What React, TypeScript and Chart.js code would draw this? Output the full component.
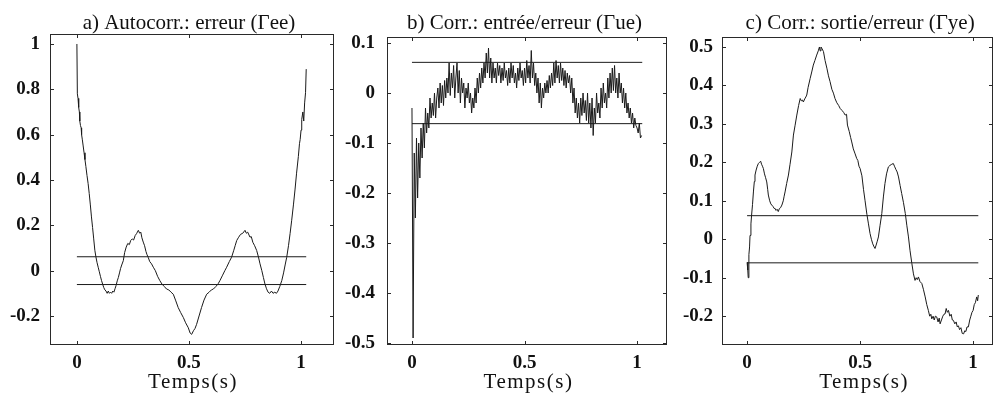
import React, { useEffect, useRef } from "react";
import { Chart, registerables } from "chart.js";

Chart.register(...registerables);

const W = 995;
const H = 393;

const X_TICKS = [0, 0.5, 1];
const X_LABEL = "Temps(s)";
const CONF_LEVEL = 0.0613;
const CONF_T = [0, 1.023];

// ---- Panel a ----
const A_TITLE = "a) Autocorr.: erreur (\u0393ee)";
const A_Y_TICKS = [-0.2, 0, 0.2, 0.4, 0.6, 0.8, 1];
const A_T = [
  0, 0.002, 0.005, 0.008, 0.011, 0.013, 0.016, 0.019, 0.021, 0.024, 0.028, 0.032, 0.036, 0.04, 0.045, 0.05,
  0.055, 0.06, 0.065, 0.07, 0.075, 0.08, 0.085, 0.09, 0.095, 0.1, 0.105, 0.11, 0.115, 0.12, 0.125, 0.13,
  0.135, 0.14, 0.145, 0.15, 0.155, 0.16, 0.165, 0.17, 0.175, 0.18, 0.185, 0.19, 0.195, 0.2, 0.207, 0.213,
  0.22, 0.227, 0.234, 0.24, 0.247, 0.253, 0.26, 0.266, 0.274, 0.28, 0.285, 0.29, 0.296, 0.302, 0.308, 0.313,
  0.318, 0.325, 0.333, 0.341, 0.35, 0.36, 0.37, 0.38, 0.39, 0.4, 0.41, 0.42, 0.43, 0.44, 0.452, 0.463,
  0.475, 0.485, 0.497, 0.505, 0.512, 0.52, 0.527, 0.534, 0.545, 0.556, 0.567, 0.579, 0.59, 0.6, 0.609, 0.62,
  0.63, 0.638, 0.65, 0.66, 0.668, 0.68, 0.69, 0.7, 0.706, 0.713, 0.72, 0.73, 0.74, 0.75, 0.756, 0.762,
  0.772, 0.778, 0.785, 0.793, 0.802, 0.81, 0.817, 0.825, 0.832, 0.839, 0.846, 0.853, 0.86, 0.868, 0.875, 0.883,
  0.89, 0.897, 0.905, 0.914, 0.922, 0.929, 0.936, 0.944, 0.951, 0.958, 0.966, 0.973, 0.98, 0.988, 0.993, 0.996,
  1.0, 1.003, 1.008, 1.012, 1.016, 1.02, 1.023,
];
const A_V = [
  1.0, 0.78, 0.76, 0.72, 0.7, 0.66, 0.64, 0.63, 0.6, 0.58, 0.55, 0.52, 0.49, 0.46, 0.42, 0.385,
  0.34, 0.29, 0.237, 0.19, 0.14, 0.09, 0.06, 0.035, 0.015, -0.005, -0.025, -0.044, -0.06, -0.075, -0.085, -0.09,
  -0.1, -0.09, -0.1, -0.095, -0.1, -0.09, -0.095, -0.08, -0.065, -0.045, -0.03, -0.01, 0.01, 0.025, 0.044, 0.08,
  0.104, 0.12, 0.115, 0.133, 0.14, 0.135, 0.155, 0.163, 0.178, 0.165, 0.17, 0.145, 0.126, 0.11, 0.085, 0.07,
  0.059, 0.04, 0.03, 0.015, 0.0, -0.025, -0.044, -0.06, -0.07, -0.081, -0.085, -0.095, -0.104, -0.13, -0.163, -0.185,
  -0.207, -0.23, -0.252, -0.275, -0.281, -0.265, -0.255, -0.237, -0.2, -0.163, -0.13, -0.104, -0.095, -0.085, -0.081, -0.07,
  -0.058, -0.044, -0.02, 0.0, 0.015, 0.04, 0.059, 0.09, 0.11, 0.133, 0.145, 0.16, 0.165, 0.178, 0.165, 0.17,
  0.148, 0.15, 0.125, 0.11, 0.089, 0.06, 0.03, 0.0, -0.03, -0.059, -0.08, -0.095, -0.1, -0.09, -0.1, -0.095,
  -0.1, -0.09, -0.07, -0.044, -0.01, 0.025, 0.059, 0.11, 0.163, 0.22, 0.29, 0.356, 0.43, 0.504, 0.56, 0.578,
  0.62, 0.667, 0.7, 0.66, 0.74, 0.785, 0.889,
];

// ---- Panel b ---- (sampled every 0.005 s)
const B_TITLE = "b) Corr.: entr\u00e9e/erreur (\u0393ue)";
const B_Y_TICKS = [-0.5, -0.4, -0.3, -0.2, -0.1, 0, 0.1];
const B_DT = 0.005;
const B_V = [
  -0.03, -0.49, -0.12, -0.25, -0.09, -0.21, -0.1, -0.17, -0.07, -0.13,
  -0.06, -0.11, -0.03, -0.08, -0.04, -0.07, -0.01, -0.05, -0.02, -0.045,
  0.0, -0.05, -0.01, 0.01, -0.03, 0.02, -0.02, 0.015, -0.025, 0.025,
  -0.01, 0.03, 0.0, 0.06, -0.005, 0.04, 0.01, 0.055, -0.01, 0.03,
  0.06, 0.0, 0.045, -0.02, 0.03, 0.0, 0.02, -0.03, 0.01, -0.01,
  0.02, -0.02, 0.0, -0.04, -0.01, -0.03, 0.01, -0.02, 0.03, 0.0,
  0.04, 0.01, 0.05, 0.02, 0.06, 0.03, 0.08, 0.04, 0.09, 0.03,
  0.07, 0.02, 0.06, 0.03, 0.05, 0.02, 0.06, 0.035, 0.055, 0.02,
  0.05, 0.025, 0.06, 0.03, 0.045, 0.015, 0.05, 0.02, 0.06, 0.03,
  0.055, 0.02, 0.04, 0.01, 0.05, 0.025, 0.06, 0.03, 0.045, 0.015,
  0.05, 0.02, 0.065, 0.03, 0.055, 0.02, 0.085, 0.03, 0.06, 0.015,
  0.04, 0.0, 0.03, -0.02, 0.02, -0.03, 0.01, -0.01, 0.02, 0.0,
  0.025, 0.0, 0.035, 0.01, 0.04, 0.015, 0.06, 0.02, 0.065, 0.03,
  0.055, 0.02, 0.06, 0.025, 0.05, 0.015, 0.045, 0.01, 0.04, 0.02,
  0.035, 0.0, 0.03, -0.02, 0.01, -0.04, -0.01, -0.05, -0.02, -0.06,
  -0.01, -0.045, 0.0, -0.04, -0.015, -0.055, 0.0, -0.06, -0.02, -0.07,
  -0.01, -0.085, -0.03, -0.06, 0.0, -0.04, -0.02, -0.05, 0.01, -0.03,
  0.02, -0.02, 0.0, -0.03, 0.03, -0.01, 0.04, 0.0, 0.05, 0.005,
  0.055, 0.0, 0.03, -0.01, 0.04, 0.0, 0.02, -0.02, 0.01, -0.03,
  0.0, -0.04, -0.02, -0.05, -0.03, -0.06, -0.04, -0.07, -0.05, -0.065,
  -0.07, -0.08, -0.06, -0.09, -0.085,
];
const B_T = B_V.map((_, i) => i * B_DT);

// ---- Panel c ----
const C_TITLE = "c) Corr.: sortie/erreur (\u0393ye)";
const C_Y_TICKS = [-0.2, -0.1, 0, 0.1, 0.2, 0.3, 0.4, 0.5];
const C_T = [
  0, 0.003, 0.005, 0.008, 0.011, 0.013, 0.017, 0.02, 0.024, 0.028, 0.032, 0.035, 0.04, 0.045, 0.05, 0.055,
  0.06, 0.064, 0.068, 0.072, 0.077, 0.082, 0.087, 0.091, 0.094, 0.1, 0.105, 0.109, 0.115, 0.12, 0.124, 0.128,
  0.133, 0.138, 0.143, 0.148, 0.154, 0.16, 0.164, 0.168, 0.175, 0.183, 0.19, 0.198, 0.205, 0.212, 0.22, 0.228,
  0.235, 0.24, 0.245, 0.249, 0.255, 0.26, 0.264, 0.27, 0.279, 0.286, 0.293, 0.3, 0.308, 0.315, 0.32, 0.323,
  0.327, 0.332, 0.338, 0.345, 0.353, 0.36, 0.367, 0.375, 0.382, 0.389, 0.397, 0.405, 0.412, 0.42, 0.427, 0.434,
  0.44, 0.444, 0.452, 0.458, 0.463, 0.47, 0.478, 0.485, 0.49, 0.495, 0.5, 0.508, 0.515, 0.522, 0.53, 0.537,
  0.544, 0.55, 0.556, 0.562, 0.566, 0.571, 0.576, 0.581, 0.588, 0.596, 0.603, 0.61, 0.617, 0.625, 0.632, 0.64,
  0.647, 0.652, 0.658, 0.664, 0.67, 0.677, 0.684, 0.692, 0.7, 0.707, 0.714, 0.721, 0.729, 0.736, 0.743, 0.748,
  0.753, 0.758, 0.765, 0.773, 0.78, 0.788, 0.795, 0.802, 0.808, 0.813, 0.817, 0.823, 0.828, 0.833, 0.839, 0.845,
  0.85, 0.854, 0.86, 0.866, 0.871, 0.876, 0.881, 0.886, 0.891, 0.897, 0.903, 0.908, 0.913, 0.919, 0.925, 0.93,
  0.935, 0.94, 0.946, 0.952, 0.958, 0.963, 0.968, 0.973, 0.979, 0.985, 0.99, 0.995, 1.0, 1.005, 1.01, 1.016,
  1.02, 1.023,
];
const C_V = [
  -0.06, -0.08, -0.1, -0.04, -0.02, 0.01, 0.04, 0.063, 0.09, 0.123, 0.15, 0.167, 0.18, 0.19, 0.197, 0.2,
  0.203, 0.195, 0.19, 0.184, 0.17, 0.16, 0.149, 0.13, 0.115, 0.1, 0.092, 0.089, 0.085, 0.08, 0.08, 0.075,
  0.078, 0.072, 0.08, 0.082, 0.089, 0.1, 0.112, 0.123, 0.145, 0.167, 0.195, 0.227, 0.271, 0.295, 0.323, 0.348,
  0.366, 0.36, 0.362, 0.357, 0.365, 0.37, 0.375, 0.395, 0.418, 0.435, 0.453, 0.465, 0.479, 0.49, 0.5, 0.49,
  0.5, 0.495, 0.488, 0.465, 0.445, 0.425, 0.41, 0.39, 0.38, 0.366, 0.355, 0.348, 0.34, 0.335, 0.33, 0.323,
  0.325, 0.297, 0.28, 0.265, 0.253, 0.235, 0.222, 0.21, 0.205, 0.19, 0.184, 0.165, 0.13, 0.1, 0.065, 0.04,
  0.015, 0.0, -0.012, -0.02, -0.024, -0.015, -0.005, 0.006, 0.035, 0.067, 0.11, 0.145, 0.17, 0.188, 0.192, 0.195,
  0.197, 0.19, 0.182, 0.175, 0.162, 0.14, 0.119, 0.095, 0.067, 0.035, 0.006, -0.03, -0.063, -0.09, -0.107, -0.1,
  -0.105, -0.098, -0.11, -0.115, -0.13, -0.15, -0.17, -0.185, -0.2, -0.195, -0.207, -0.2, -0.21, -0.2, -0.202, -0.215,
  -0.205, -0.22, -0.21, -0.2, -0.195, -0.194, -0.18, -0.19, -0.185, -0.2, -0.195, -0.21, -0.211, -0.22, -0.215, -0.228,
  -0.225, -0.235, -0.23, -0.245, -0.246, -0.238, -0.24, -0.228, -0.228, -0.21, -0.2, -0.19, -0.185, -0.17, -0.165, -0.15,
  -0.16, -0.145,
];

type PanelCfg = {
  title: string;
  t: number[];
  v: number[];
  yTicks: number[];
  x0: number;
  w: number;
  L: number; R: number; T: number; B: number;
  xMin: number; xMax: number; yMin: number; yMax: number;
  yPad: number;
};

const PANELS: PanelCfg[] = [
  { title: A_TITLE, t: A_T, v: A_V, yTicks: A_Y_TICKS, x0: 0, w: 345, L: 50, R: 334, T: 34, B: 345,
    xMin: -0.12, xMax: 1.147, yMin: -0.328, yMax: 1.044, yPad: 10 },
  { title: B_TITLE, t: B_T, v: B_V, yTicks: B_Y_TICKS, x0: 345, w: 335, L: 387, R: 667, T: 37, B: 345,
    xMin: -0.111, xMax: 1.133, yMin: -0.504, yMax: 0.112, yPad: 12 },
  { title: C_TITLE, t: C_T, v: C_V, yTicks: C_Y_TICKS, x0: 680, w: 315, L: 722, R: 993, T: 37, B: 345,
    xMin: -0.111, xMax: 1.088, yMin: -0.275, yMax: 0.526, yPad: 9 },
];

const INK = "#1a1a1a";
const SERIF = '"Liberation Serif", "Times New Roman", serif';
const TICK_FONT = { family: SERIF, size: 19, weight: "bold" as const };

const decoPlugin = {
  id: "panelDeco",
  afterDraw(chart: any, _args: any, opts: any) {
    const { ctx, chartArea: a, scales } = chart;
    ctx.save();
    ctx.strokeStyle = "#2a2a2a";
    ctx.lineWidth = 1;
    ctx.strokeRect(Math.round(a.left) + 0.5, Math.round(a.top) + 0.5, Math.round(a.right - a.left) - 1, Math.round(a.bottom - a.top) - 1);
    const tl = 4;
    ctx.beginPath();
    for (const v of X_TICKS) {
      const px = Math.round(scales.x.getPixelForValue(v)) + 0.5;
      ctx.moveTo(px, a.bottom);
      ctx.lineTo(px, a.bottom - tl);
      ctx.moveTo(px, a.top);
      ctx.lineTo(px, a.top + tl);
    }
    for (const v of opts.yTicks as number[]) {
      const py = Math.round(scales.y.getPixelForValue(v)) + 0.5;
      ctx.moveTo(a.left, py);
      ctx.lineTo(a.left + tl, py);
      ctx.moveTo(a.right, py);
      ctx.lineTo(a.right - tl, py);
    }
    ctx.stroke();
    const cx = scales.x.getPixelForValue(0.5);
    ctx.fillStyle = "#111";
    ctx.textAlign = "center";
    ctx.textBaseline = "alphabetic";
    ctx.font = "21px " + SERIF;
    ctx.fillText(opts.title, cx, 29);
    ctx.font = "21px " + SERIF;
    try { (ctx as any).letterSpacing = "1.5px"; } catch (e) { /* ignore */ }
    ctx.fillText(X_LABEL, cx + 4, 388);
    ctx.restore();
  },
};

function Panel({ cfg }: { cfg: PanelCfg }) {
  const ref = useRef<HTMLCanvasElement | null>(null);
  useEffect(() => {
    const c = cfg;
    const lineStyle = { borderColor: INK, borderWidth: 1, pointRadius: 0, tension: 0, fill: false };
    const chart = new Chart(ref.current as HTMLCanvasElement, {
      type: "line",
      data: {
        datasets: [
          { data: c.t.map((t, i) => ({ x: t, y: c.v[i] })), ...lineStyle },
          { data: CONF_T.map((t) => ({ x: t, y: CONF_LEVEL })), ...lineStyle },
          { data: CONF_T.map((t) => ({ x: t, y: -CONF_LEVEL })), ...lineStyle },
        ],
      },
      options: {
        animation: false,
        responsive: false,
        maintainAspectRatio: false,
        events: [],
        layout: { padding: { left: 0, right: c.w - (c.R - c.x0), top: c.T, bottom: 0 } },
        plugins: {
          legend: { display: false },
          tooltip: { enabled: false },
          title: { display: false },
          panelDeco: { title: c.title, yTicks: c.yTicks },
        } as any,
        scales: {
          x: {
            type: "linear",
            min: c.xMin,
            max: c.xMax,
            grid: { display: false, drawTicks: false },
            border: { display: false },
            afterBuildTicks: (ax: any) => { ax.ticks = X_TICKS.map((v) => ({ value: v })); },
            afterFit: (sc: any) => { sc.height = H - c.B; },
            ticks: {
              padding: 7,
              color: "#111",
              font: TICK_FONT,
              maxRotation: 0,
              autoSkip: false,
              callback: (v: any) => String(v),
            },
          },
          y: {
            type: "linear",
            min: c.yMin,
            max: c.yMax,
            grid: { display: false, drawTicks: false },
            border: { display: false },
            afterBuildTicks: (ax: any) => { ax.ticks = c.yTicks.map((v) => ({ value: v })); },
            afterFit: (sc: any) => { sc.width = c.L - c.x0; },
            ticks: {
              padding: c.yPad,
              color: "#111",
              font: TICK_FONT,
              autoSkip: false,
              callback: (v: any) => String(Math.round(v * 10) / 10),
            },
          },
        },
      } as any,
      plugins: [decoPlugin],
    });
    return () => chart.destroy();
  }, [cfg]);
  return (
    <canvas
      ref={ref}
      width={cfg.w}
      height={H}
      style={{ position: "absolute", left: cfg.x0, top: 0, width: cfg.w, height: H }}
    />
  );
}

export default function App() {
  return (
    <div style={{ position: "fixed", left: 0, top: 0, width: W, height: H, background: "#fff", overflow: "hidden" }}>
      {PANELS.map((p, i) => (
        <Panel key={i} cfg={p} />
      ))}
    </div>
  );
}
